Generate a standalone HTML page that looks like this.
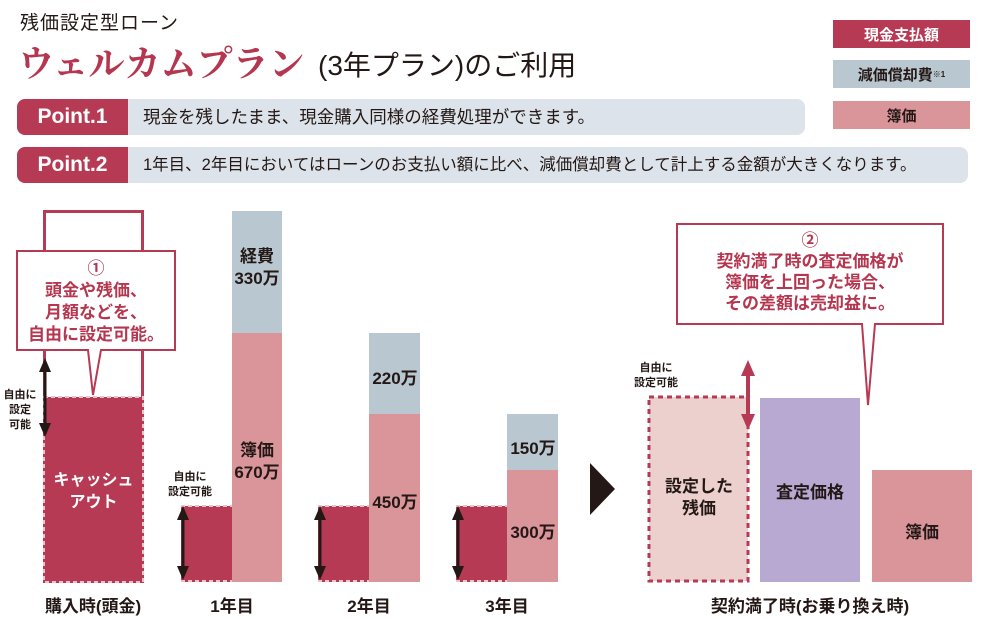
<!DOCTYPE html>
<html><head><meta charset="utf-8"><style>
body{margin:0;width:985px;height:619px;background:#fff;position:relative;overflow:hidden;font-family:"Liberation Sans","Noto Sans CJK JP",sans-serif;color:#231815}
.a{position:absolute}
.c{display:flex;align-items:center;justify-content:center;text-align:center;font-weight:bold}
.pt{position:absolute;left:17px;height:36px;border-radius:8px;background:#dde3ea;overflow:hidden}
.pt .l{position:absolute;left:0;top:0;width:111px;height:36px;background:#b73a55;color:#fff;font-size:21px;font-weight:bold;display:flex;align-items:center;justify-content:center}
.pt .t{position:absolute;left:126px;top:0;line-height:36px;font-size:17.5px;white-space:nowrap}
.red{background:#b73a55}.blu{background:#b9c7d0}.pnk{background:#d9959a}
.lab{font-size:17px;font-weight:bold}
.sm{font-size:11px;font-weight:bold;line-height:15px;text-align:center}
</style></head><body>
<div class="a" style="left:20px;top:8px;font-size:19px;letter-spacing:1px">残価設定型ローン</div>
<div class="a" style="left:18px;top:36px;font-size:36px;font-weight:bold;color:#b5364f;font-family:'Noto Serif CJK SC','Liberation Serif',serif;white-space:nowrap">ウェルカムプラン</div>
<div class="a" style="left:318px;top:44px;font-size:28px;white-space:nowrap">(3年プラン)のご利用</div>
<div class="a c red" style="left:833px;top:20px;width:137px;height:28px;color:#fff;font-size:15px">現金支払額</div>
<div class="a c blu" style="left:833px;top:60px;width:137px;height:28px;font-size:15px">減価償却費<sup style="font-size:8px">※1</sup></div>
<div class="a c pnk" style="left:833px;top:101px;width:137px;height:28px;font-size:15px">簿価</div>
<div class="pt" style="top:99px;width:788px"><div class="l">Point.1</div><div class="t">現金を残したまま、現金購入同様の経費処理ができます。</div></div>
<div class="pt" style="top:147px;width:951px"><div class="l">Point.2</div><div class="t" style="font-size:16.5px">1年目、2年目においてはローンのお支払い額に比べ、減価償却費として計上する金額が大きくなります。</div></div>

<svg class="a" style="left:0;top:0" width="985" height="619">
<rect x="44.5" y="211.5" width="98" height="370" fill="none" stroke="#b73a55" stroke-width="3"/>
<rect x="44" y="397" width="99" height="185" fill="#b73a55" stroke="#e8c4c9" stroke-width="2" stroke-dasharray="4 3"/>
<path d="M17,251H175V350H101L93,395L88,350H17Z" fill="#fff" stroke="#b73a55" stroke-width="2"/>
<rect x="181" y="506" width="51" height="76" fill="#b73a55"/>
<rect x="232" y="211" width="50" height="122" fill="#b9c7d0"/><rect x="232" y="333" width="50" height="249" fill="#d9959a"/>
<rect x="318" y="506" width="51" height="76" fill="#b73a55"/>
<rect x="369" y="333" width="51" height="81" fill="#b9c7d0"/><rect x="369" y="414" width="51" height="168" fill="#d9959a"/>
<rect x="456" y="506" width="51" height="76" fill="#b73a55"/>
<rect x="507" y="414" width="51" height="56" fill="#b9c7d0"/><rect x="507" y="470" width="51" height="112" fill="#d9959a"/>
<g stroke="#e8c4c9" stroke-width="2" stroke-dasharray="4 3"><line x1="181" y1="506" x2="232" y2="506"/><line x1="318" y1="506" x2="369" y2="506"/><line x1="456" y1="506" x2="507" y2="506"/><line x1="181" y1="581" x2="232" y2="581"/><line x1="318" y1="581" x2="369" y2="581"/><line x1="456" y1="581" x2="507" y2="581"/></g>
<g fill="#231815" stroke="#231815" stroke-width="3">
<line x1="45" y1="370" x2="45" y2="425"/><path d="M39,372L45,358L51,372z" stroke-width="0"/><path d="M39,423L45,437L51,423z" stroke-width="0"/>
<line x1="183" y1="518" x2="183" y2="570"/><path d="M177,520L183,506L189,520z" stroke-width="0"/><path d="M177,566L183,580L189,566z" stroke-width="0"/>
<line x1="320" y1="518" x2="320" y2="570"/><path d="M314,520L320,506L326,520z" stroke-width="0"/><path d="M314,566L320,580L326,566z" stroke-width="0"/>
<line x1="458" y1="518" x2="458" y2="570"/><path d="M452,520L458,506L464,520z" stroke-width="0"/><path d="M452,566L458,580L464,566z" stroke-width="0"/>
</g>
<path d="M590,463L615,489L590,515z" fill="#231815"/>
<rect x="649" y="397" width="99" height="184" fill="#ecd0ce" stroke="#b73a55" stroke-width="3" stroke-dasharray="5 4"/>
<rect x="760" y="398" width="100" height="184" fill="#b8a9d2"/>
<rect x="872" y="470" width="100" height="112" fill="#d9959a"/>
<path d="M677,224H943V324H875L868,405L862,324H677Z" fill="#fff" stroke="#b73a55" stroke-width="2"/>
<g fill="#b73a55"><rect x="746" y="372" width="4" height="46"/><path d="M741,376L748,360L755,376z"/><path d="M741,414L748,430L755,414z"/></g>
</svg>
<div class="a" style="left:17px;top:258px;width:158px;text-align:center;color:#b5364f;font-weight:bold;font-size:17px;line-height:22px">①<br>頭金や残価、<br>月額などを、<br>自由に設定可能。</div>
<div class="a" style="left:677px;top:230px;width:266px;text-align:center;color:#b5364f;font-weight:bold;font-size:17px;line-height:21px">②<br>契約満了時の査定価格が<br>簿価を上回った場合、<br>その差額は売却益に。</div>
<div class="a sm" style="left:2px;top:388px;width:36px">自由に<br>設定<br>可能</div>
<div class="a sm" style="left:160px;top:470px;width:60px">自由に<br>設定可能</div>
<div class="a sm" style="left:626px;top:361px;width:60px">自由に<br>設定可能</div>
<div class="a c" style="left:44px;top:470px;width:99px;color:#fff;font-size:16px;line-height:22px">キャッシュ<br>アウト</div>
<div class="a c lab" style="left:228px;top:246px;width:58px;line-height:22px">経費<br>330万</div>
<div class="a c lab" style="left:228px;top:440px;width:58px;line-height:22px">簿価<br>670万</div>
<div class="a c lab" style="left:366px;top:364px;width:58px">220万</div>
<div class="a c lab" style="left:366px;top:488px;width:58px">450万</div>
<div class="a c lab" style="left:504px;top:434px;width:58px">150万</div>
<div class="a c lab" style="left:504px;top:518px;width:58px">300万</div>
<div class="a c" style="left:649px;top:476px;width:100px;font-size:17px;line-height:22px">設定した<br>残価</div>
<div class="a c" style="left:760px;top:478px;width:100px;font-size:17px">査定価格</div>
<div class="a c" style="left:872px;top:518px;width:100px;font-size:17px">簿価</div>
<div class="a c" style="left:20px;top:592px;width:146px;font-size:17px">購入時(頭金)</div>
<div class="a c" style="left:200px;top:592px;width:64px;font-size:17px">1年目</div>
<div class="a c" style="left:337px;top:592px;width:64px;font-size:17px">2年目</div>
<div class="a c" style="left:475px;top:592px;width:64px;font-size:17px">3年目</div>
<div class="a c" style="left:690px;top:592px;width:240px;font-size:17px">契約満了時(お乗り換え時)</div>
</body></html>
